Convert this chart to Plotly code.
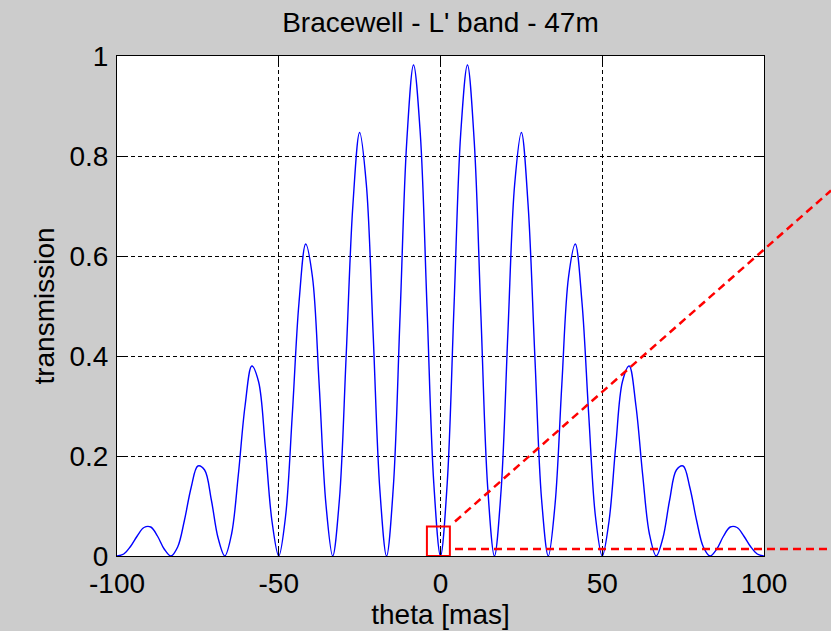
import plotly.graph_objects as go

# Angular offset on the sky [mas] and nuller transmission read at each offset
theta = [
    -100.0, -97.92, -95.83, -93.75, -91.67, -89.58, -87.5, -85.42,
    -83.33, -81.25, -79.17, -77.08, -75.0, -72.92, -70.83, -68.75,
    -66.67, -64.58, -62.5, -60.42, -58.33, -56.25, -54.17, -52.08,
    -50.0, -47.92, -45.83, -43.75, -41.67, -39.58, -37.5, -35.42,
    -33.33, -31.25, -29.17, -27.08, -25.0, -22.92, -20.83, -18.75,
    -16.67, -14.58, -12.5, -10.42, -8.33, -6.25, -4.17, -2.08,
    0.0,
    2.08, 4.17, 6.25, 8.33, 10.42, 12.5, 14.58, 16.67,
    18.75, 20.83, 22.92, 25.0, 27.08, 29.17, 31.25, 33.33,
    35.42, 37.5, 39.58, 41.67, 43.75, 45.83, 47.92, 50.0,
    52.08, 54.17, 56.25, 58.33, 60.42, 62.5, 64.58, 66.67,
    68.75, 70.83, 72.92, 75.0, 77.08, 79.17, 81.25, 83.33,
    85.42, 87.5, 89.58, 91.67, 93.75, 95.83, 97.92, 100.0,
]
transmission = [
    0.000, 0.004, 0.019, 0.040, 0.057, 0.058, 0.040, 0.014,
    0.000, 0.018, 0.071, 0.137, 0.180, 0.172, 0.112, 0.036,
    0.000, 0.044, 0.162, 0.300, 0.380, 0.349, 0.220, 0.069,
    0.000, 0.078, 0.281, 0.506, 0.624, 0.558, 0.342, 0.104,
    0.000, 0.113, 0.399, 0.702, 0.847, 0.743, 0.446, 0.133,
    0.000, 0.138, 0.480, 0.830, 0.982, 0.845, 0.498, 0.146,
    0.000,
    0.146, 0.498, 0.845, 0.982, 0.830, 0.480, 0.138, 0.000,
    0.133, 0.446, 0.743, 0.847, 0.702, 0.399, 0.113, 0.000,
    0.104, 0.342, 0.558, 0.624, 0.506, 0.281, 0.078, 0.000,
    0.069, 0.220, 0.349, 0.380, 0.300, 0.162, 0.044, 0.000,
    0.036, 0.112, 0.172, 0.180, 0.137, 0.071, 0.018, 0.000,
    0.014, 0.040, 0.058, 0.057, 0.040, 0.019, 0.004, 0.000,
]

x_ticks = [-100, -50, 0, 50, 100]
y_ticks = [0, 0.2, 0.4, 0.6, 0.8, 1]
y_tick_text = ["0", "0.2", "0.4", "0.6", "0.8", "1"]

# Zoom box around the central null (data units)
box_theta = [-4.2, 2.9]
box_trans = [0.0, 0.059]

FONT = "Liberation Sans, Arial, sans-serif"
FS = 28
RED = "#ff0000"

fig = go.Figure()
fig.add_trace(go.Scatter(
    x=theta, y=transmission, mode="lines",
    line=dict(color="#0000ff", width=1.4, shape="spline", smoothing=1.0),
    showlegend=False, hoverinfo="skip",
))

axis_common = dict(
    showline=True, linecolor="black", linewidth=1, mirror="ticks",
    ticks="inside", ticklen=7, tickwidth=1, tickcolor="black",
    showgrid=True, gridcolor="black", gridwidth=1, griddash="4px,3px",
    zeroline=False,
    tickfont=dict(family=FONT, size=FS, color="black"),
    ticklabelstandoff=2,
)

fig.update_layout(
    width=831, height=631,
    margin=dict(l=117, r=67, t=56, b=68, pad=0),
    paper_bgcolor="#cccccc", plot_bgcolor="white",
    title=dict(text="Bracewell - L' band - 47m", x=0.53, xanchor="center",
               y=0.965, yanchor="middle",
               font=dict(family=FONT, size=FS, color="black")),
    xaxis=dict(range=[-100, 100], tickvals=x_ticks,
               ticktext=[str(v) for v in x_ticks],
               title=dict(text="theta [mas]", standoff=1,
                          font=dict(family=FONT, size=FS, color="black")),
               **axis_common),
    yaxis=dict(range=[0, 1], tickvals=y_ticks, ticktext=y_tick_text,
               title=dict(text="transmission", standoff=6,
                          font=dict(family=FONT, size=FS, color="black")),
               **axis_common),
)

# Red zoom box on the null
fig.add_shape(type="rect", xref="x", yref="y",
              x0=box_theta[0], x1=box_theta[1], y0=box_trans[0], y1=box_trans[1],
              line=dict(color=RED, width=2), layer="above")

# Dashed leader lines running out of the axes towards the zoomed view
fig.add_shape(type="line", xref="paper", yref="paper",
              x0=0.5224, y0=0.069, x1=1.1036, y1=0.731,
              line=dict(color=RED, width=2.5, dash="8px,5px"), layer="above")
fig.add_shape(type="line", xref="paper", yref="paper",
              x0=0.5224, y0=0.0138, x1=1.1036, y1=0.0138,
              line=dict(color=RED, width=2.5, dash="8px,5px"), layer="above")

fig.write_html("out.html")
